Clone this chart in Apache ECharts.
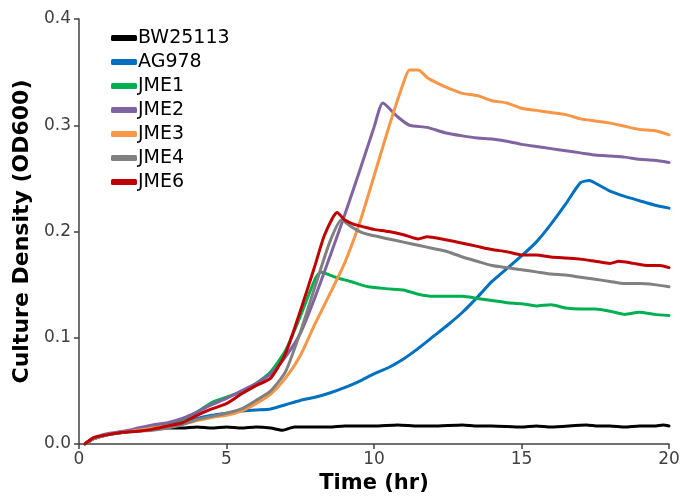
<!DOCTYPE html>
<html>
<head>
<meta charset="utf-8">
<script src="https://cdn.jsdelivr.net/npm/echarts@6/dist/echarts.min.js"></script>
<style>html,body{margin:0;padding:0;background:#fff;}#chart{width:687px;height:501px;}</style>
</head>
<body>
<div id="chart"></div>
<script>
const seriesNames = ['BW25113','AG978','JME1','JME2','JME3','JME4','JME6'];
const seriesColors = ['#000000','#0070C0','#00B050','#8064A2','#F79646','#808080','#C00000'];
const xTicks = [0,5,10,15,20];
const yTicks = [0,0.1,0.2,0.3,0.4];

const bw25113 = [[0.2,0],[0.5,0.005],[1,0.009],[1.5,0.011],[2,0.013],[2.5,0.014],[3,0.015],[3.5,0.015],[4,0.016],[4.5,0.015],[5,0.016],[5.5,0.015],[6,0.016],[6.5,0.015],[6.9,0.013],[7.3,0.016],[8,0.016],[8.5,0.016],[9,0.017],[10,0.017],[10.8,0.018],[11.5,0.017],[12,0.017],[13,0.018],[13.5,0.017],[14,0.017],[15,0.016],[15.5,0.017],[16,0.016],[17.2,0.018],[17.6,0.017],[18,0.017],[18.5,0.016],[19,0.017],[19.5,0.017],[19.8,0.018],[20,0.017]];
const ag978 = [[0.2,0],[0.5,0.005],[1,0.009],[1.5,0.011],[2,0.013],[2.5,0.015],[3,0.017],[3.5,0.020],[4,0.024],[4.5,0.027],[5,0.029],[5.5,0.031],[6,0.032],[6.5,0.033],[7,0.037],[7.5,0.041],[8,0.044],[8.5,0.048],[9,0.053],[9.5,0.059],[10,0.066],[10.5,0.072],[11,0.080],[11.5,0.090],[12,0.101],[12.5,0.112],[13,0.124],[13.5,0.138],[14,0.153],[14.5,0.165],[15,0.177],[15.5,0.190],[16,0.207],[16.5,0.226],[17,0.246],[17.3,0.248],[17.6,0.244],[18,0.238],[18.5,0.233],[19,0.229],[19.5,0.225],[20,0.222]];
const jme1 = [[0.2,0],[0.5,0.005],[1,0.009],[1.5,0.011],[2,0.014],[2.5,0.016],[3,0.019],[3.5,0.023],[4,0.030],[4.5,0.039],[5,0.044],[5.5,0.049],[6,0.057],[6.5,0.068],[7,0.088],[7.5,0.120],[8,0.155],[8.2,0.162],[8.5,0.159],[8.8,0.156],[9.2,0.153],[9.8,0.148],[10.5,0.146],[11,0.145],[11.5,0.141],[12,0.139],[12.5,0.139],[13,0.139],[13.5,0.137],[14,0.135],[14.5,0.133],[15,0.132],[15.5,0.130],[16,0.131],[16.5,0.128],[17,0.127],[17.5,0.127],[18,0.125],[18.5,0.122],[19,0.124],[19.5,0.122],[20,0.121]];
const jme2 = [[0.2,0],[0.5,0.006],[1,0.010],[1.5,0.012],[2,0.015],[2.5,0.018],[3,0.020],[3.5,0.024],[4,0.030],[4.5,0.037],[5,0.043],[5.5,0.050],[6,0.057],[6.5,0.066],[7,0.082],[7.5,0.104],[8,0.138],[8.5,0.176],[9,0.215],[9.5,0.256],[10,0.298],[10.3,0.321],[10.8,0.308],[11.2,0.300],[11.8,0.298],[12.4,0.293],[13,0.290],[13.5,0.288],[14,0.287],[14.5,0.285],[15,0.282],[15.5,0.280],[16,0.278],[16.5,0.276],[17,0.274],[17.5,0.272],[18,0.271],[18.5,0.270],[19,0.268],[19.5,0.267],[20,0.265]];
const jme3 = [[0.2,0],[0.5,0.005],[1,0.009],[1.5,0.011],[2,0.013],[2.5,0.015],[3,0.017],[3.5,0.019],[4,0.022],[4.5,0.025],[5,0.027],[5.5,0.031],[6,0.038],[6.5,0.047],[7,0.062],[7.5,0.083],[8,0.113],[8.5,0.141],[9,0.170],[9.5,0.207],[10,0.252],[10.5,0.298],[11,0.340],[11.2,0.352],[11.5,0.352],[11.8,0.345],[12.2,0.339],[12.6,0.334],[13,0.330],[13.5,0.328],[14,0.323],[14.5,0.321],[15,0.316],[15.5,0.314],[16,0.312],[16.5,0.310],[17,0.306],[17.5,0.304],[18,0.302],[18.5,0.299],[19,0.296],[19.5,0.295],[20,0.291]];
const jme4 = [[0.2,0],[0.5,0.005],[1,0.009],[1.5,0.011],[2,0.012],[2.5,0.013],[3,0.015],[3.5,0.018],[4,0.023],[4.5,0.026],[5,0.029],[5.5,0.033],[6,0.041],[6.5,0.050],[7,0.068],[7.5,0.105],[8,0.148],[8.5,0.190],[8.9,0.211],[9.2,0.205],[9.6,0.199],[10,0.196],[10.5,0.193],[11,0.190],[11.5,0.187],[12,0.184],[12.5,0.181],[13,0.176],[13.5,0.172],[14,0.168],[14.5,0.166],[15,0.164],[15.5,0.162],[16,0.160],[16.5,0.159],[17,0.157],[17.5,0.155],[18,0.153],[18.5,0.151],[19,0.151],[19.5,0.150],[20,0.148]];
const jme6 = [[0.2,0],[0.5,0.006],[1,0.009],[1.5,0.011],[2,0.012],[2.5,0.014],[3,0.017],[3.5,0.020],[4,0.027],[4.5,0.033],[5,0.038],[5.5,0.047],[6,0.055],[6.5,0.062],[7,0.085],[7.5,0.125],[8,0.168],[8.3,0.195],[8.6,0.213],[8.75,0.218],[9,0.211],[9.3,0.207],[9.7,0.204],[10,0.202],[10.5,0.200],[11,0.197],[11.5,0.193],[11.8,0.195],[12.3,0.193],[13,0.189],[13.5,0.186],[14,0.183],[14.5,0.181],[15,0.178],[15.5,0.178],[16,0.176],[16.5,0.175],[17,0.174],[17.5,0.172],[18,0.170],[18.3,0.172],[18.8,0.170],[19.3,0.168],[19.7,0.168],[20,0.166]];

const allData = [bw25113, ag978, jme1, jme2, jme3, jme4, jme6];
const FONT = 'DejaVu Sans';

const chart = echarts.init(document.getElementById('chart'), null, {renderer: 'canvas'});
chart.setOption({
  animation: false,
  backgroundColor: '#ffffff',
  grid: {left: 79, right: 18, top: 19, bottom: 57, containLabel: false},
  legend: {
    orient: 'vertical',
    left: 106,
    top: 21,
    itemWidth: 26,
    itemHeight: 6,
    itemGap: 0,
    icon: 'roundRect',
    textStyle: {fontFamily: FONT, fontSize: 19, color: '#000', lineHeight: 24, padding: [0,0,0,-4]},
    data: seriesNames
  },
  xAxis: {
    type: 'value',
    min: xTicks[0], max: xTicks[xTicks.length-1], interval: 5,
    name: 'Time (hr)',
    nameLocation: 'middle',
    nameGap: 25,
    nameTextStyle: {fontFamily: FONT, fontSize: 21, fontWeight: 'bold', color: '#000'},
    axisLine: {show: true, lineStyle: {color: '#404040', width: 1.5}},
    axisTick: {show: true, inside: false, length: 5, lineStyle: {color: '#404040', width: 1.5}},
    axisLabel: {fontFamily: FONT, fontSize: 17, color: '#404040', margin: 7},
    splitLine: {show: false}
  },
  yAxis: {
    type: 'value',
    min: yTicks[0], max: yTicks[yTicks.length-1], interval: 0.1,
    name: 'Culture Density (OD600)',
    nameLocation: 'middle',
    nameGap: 41,
    nameRotate: 90,
    nameTextStyle: {fontFamily: FONT, fontSize: 22, fontWeight: 'bold', color: '#000'},
    axisLine: {show: true, lineStyle: {color: '#404040', width: 1.5}},
    axisTick: {show: true, inside: false, length: 5, lineStyle: {color: '#404040', width: 1.5}},
    axisLabel: {fontFamily: FONT, fontSize: 17, color: '#404040', margin: 8, formatter: v => v.toFixed(1)},
    splitLine: {show: false}
  },
  series: seriesNames.map((n, i) => ({
    name: n,
    type: 'line',
    data: allData[i],
    showSymbol: false,
    symbol: 'none',
    smooth: 0.2,
    color: seriesColors[i],
    lineStyle: {color: seriesColors[i], width: 3, cap: 'round', join: 'round'},
    itemStyle: {color: seriesColors[i]},
    z: 2 + i
  }))
});
</script>
</body>
</html>
